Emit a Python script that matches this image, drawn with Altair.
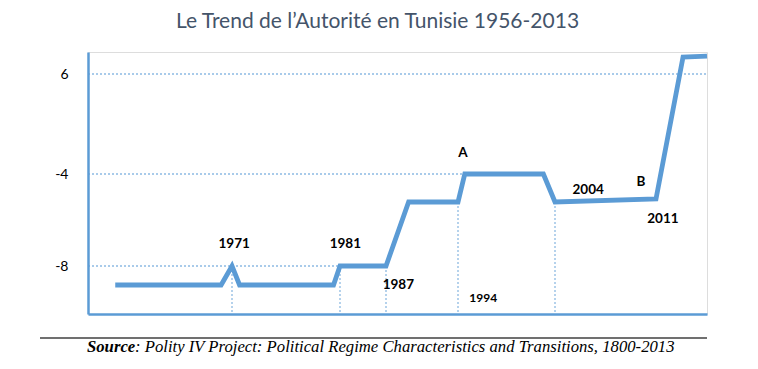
import altair as alt
import pandas as pd

# Main series (years on the x axis, authority score on the y axis)
years = [1956, 1969.6, 1971, 1971.7, 1980.4, 1981, 1987, 1989.2, 1994, 1994.7, 2002.8, 2004, 2011, 2012.06, 2013]
levels = [-9, -9, -8, -9, -9, -8, -8, -5, -5, -4, -4, -5, -4.89, 7.0, 7.06]

# Drop lines (vertical dotted) down to the x axis
drop_years = [1971, 1981, 1987, 1994, 2004]
drop_levels = [-8, -8, -8, -5, -5]
axis_floor = -10.5

# Horizontal dotted reference lines from the y axis
hline_levels = [6, -4, -8]
hline_ends = [2013, 1994.7, 1981]
axis_start = 1952.5

# Annotations
label_text = ["1971", "1981", "1987", "A", "2004", "B", "2011"]
label_years = [1971.2, 1981.7, 1988.2, 1994.5, 2006.3, 2009.96, 2011.27]
label_levels = [-6.97, -6.97, -9.0, -1.9, -4.57, -4.29, -5.8]
small_text = ["1994"]
small_years = [1996.6]
small_levels = [-9.67]

y_ticks = [6, -4, -8]
title_text = "Le Trend de l\u2019Autorité en Tunisie 1956-2013"
source_bold = "Source"
source_rest = ": Polity IV Project: Political Regime Characteristics and Transitions, 1800-2013"

BLUE = "#5B9BD5"
W, H = 619, 262

x_scale = alt.Scale(domain=[axis_start, 1971, 1981, 1987, 1994, 2004, 2011, 2013],
                    range=[0, 144, 252, 298, 370, 467, 568, 619], nice=False, zero=False)
y_scale = alt.Scale(domain=[axis_floor, -9, -8, -5, -4, 6, 7.3],
                    range=[262, 233, 214, 150, 122, 22, 0], nice=False, zero=False)

series = pd.DataFrame({"year": years, "level": levels})
drops = pd.DataFrame({"year": drop_years, "level": drop_levels, "floor": [axis_floor] * len(drop_years)})
hlines = pd.DataFrame({"level": hline_levels, "start": [axis_start] * len(hline_levels), "end": hline_ends})
labels = pd.DataFrame({"year": label_years, "level": label_levels, "t": label_text})
smalls = pd.DataFrame({"year": small_years, "level": small_levels, "t": small_text})
one = pd.DataFrame({"a": [0]})

line = alt.Chart(series).mark_line(color=BLUE, strokeWidth=4.8, strokeJoin="miter").encode(
    x=alt.X("year:Q", scale=x_scale,
            axis=alt.Axis(title=None, labels=False, ticks=False, grid=False,
                          domainColor=BLUE, domainWidth=2.5)),
    y=alt.Y("level:Q", scale=y_scale,
            axis=alt.Axis(title=None, values=y_ticks, ticks=False, grid=False,
                          domainColor=BLUE, domainWidth=2.5, labelPadding=20,
                          labelFont="Lato", labelFontSize=14, labelColor="#000000",
                          labelExpr="datum.value < 0 ? '-' + abs(datum.value) : '' + datum.value")),
)

hrules = alt.Chart(hlines).mark_rule(color=BLUE, strokeWidth=1.5, strokeDash=[2, 2], opacity=0.7).encode(
    y=alt.Y("level:Q", scale=y_scale),
    x=alt.X("start:Q", scale=x_scale),
    x2="end:Q",
)

vrules = alt.Chart(drops).mark_rule(color=BLUE, strokeWidth=1.5, strokeDash=[2, 2], opacity=0.6).encode(
    x=alt.X("year:Q", scale=x_scale),
    y=alt.Y("level:Q", scale=y_scale),
    y2="floor:Q",
)

txt = alt.Chart(labels).mark_text(font="Lato", fontSize=13.5, fontWeight="bold", color="#000000",
                                  align="center", baseline="middle").encode(
    x=alt.X("year:Q", scale=x_scale),
    y=alt.Y("level:Q", scale=y_scale),
    text="t:N",
)

txt_small = alt.Chart(smalls).mark_text(font="Lato", fontSize=12, fontWeight="bold", color="#000000",
                                        align="center", baseline="middle").encode(
    x=alt.X("year:Q", scale=x_scale),
    y=alt.Y("level:Q", scale=y_scale),
    text="t:N",
)

sep = alt.Chart(one).mark_rule(color="#404040", strokeWidth=1.5).encode(
    x=alt.value(-48), x2=alt.value(619), y=alt.value(286)
)

src1 = alt.Chart(one).mark_text(font="Liberation Serif", fontSize=16.7, fontStyle="italic",
                                fontWeight="bold", color="#000000", align="left",
                                baseline="alphabetic").encode(
    x=alt.value(-1), y=alt.value(300), text=alt.value(source_bold)
)
src2 = alt.Chart(one).mark_text(font="Liberation Serif", fontSize=16.7, fontStyle="italic",
                                color="#000000", align="left", baseline="alphabetic").encode(
    x=alt.value(47), y=alt.value(300), text=alt.value(source_rest)
)

chart = alt.layer(line, hrules, vrules, txt, txt_small, sep, src1, src2).properties(
    width=W, height=H,
    title=alt.TitleParams(title_text, font="Lato", fontSize=21, fontWeight="normal",
                          color="#44546A", anchor="middle", dx=-20, offset=14),
    autosize=alt.AutoSizeParams(type="none"),
    padding={"left": 80, "top": 44, "right": 35, "bottom": 46},
).configure_view(stroke=None).configure(background="white")

chart.save("out.html", embed_options={"renderer": "svg", "actions": False})
